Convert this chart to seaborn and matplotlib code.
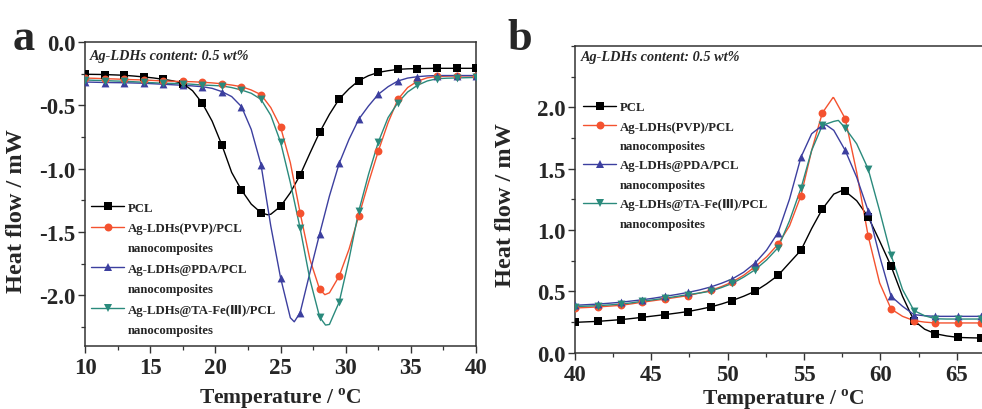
import matplotlib
matplotlib.use("Agg")
import pandas as pd
import seaborn as sns
import matplotlib.pyplot as plt
from matplotlib.lines import Line2D
from matplotlib.ticker import MultipleLocator

# panel a: every 0.75 °C (markers every 1.5 °C)
a_temp = [10, 10.75, 11.5, 12.25, 13, 13.75, 14.5, 15.25, 16, 16.75, 17.5, 18.25, 19, 19.75,
          20.5, 21.25, 22, 22.75, 23.5, 24.25, 25, 25.75, 26.5, 27.25, 28, 28.75, 29.5, 30.25,
          31, 31.75, 32.5, 33.25, 34, 34.75, 35.5, 36.25, 37, 37.75, 38.5, 39.25, 40]
a_pcl = [-0.255, -0.256, -0.257, -0.26, -0.263, -0.269, -0.276, -0.284, -0.295, -0.307, -0.328,
         -0.385, -0.484, -0.625, -0.814, -1.03, -1.169, -1.28, -1.348, -1.36, -1.298, -1.19,
         -1.05, -0.879, -0.713, -0.571, -0.45, -0.37, -0.305, -0.266, -0.24, -0.227, -0.216,
         -0.212, -0.21, -0.209, -0.208, -0.208, -0.208, -0.208, -0.208]
a_pvp = [-0.285, -0.287, -0.29, -0.292, -0.295, -0.298, -0.30, -0.304, -0.308, -0.31, -0.312,
         -0.314, -0.318, -0.323, -0.33, -0.34, -0.353, -0.379, -0.416, -0.518, -0.671, -0.953,
         -1.348, -1.716, -1.953, -1.98, -1.848, -1.637, -1.374, -1.11, -0.861, -0.637, -0.453,
         -0.36, -0.31, -0.283, -0.272, -0.27, -0.268, -0.268, -0.268]
a_pda = [-0.316, -0.318, -0.32, -0.321, -0.322, -0.324, -0.326, -0.33, -0.334, -0.338, -0.342,
         -0.347, -0.353, -0.366, -0.392, -0.431, -0.51, -0.69, -0.969, -1.453, -1.861, -2.177,
         -2.138, -1.822, -1.514, -1.216, -0.958, -0.769, -0.61, -0.505, -0.413, -0.353, -0.308,
         -0.285, -0.274, -0.268, -0.265, -0.265, -0.265, -0.265, -0.265]
a_tafe = [-0.30, -0.303, -0.305, -0.308, -0.31, -0.314, -0.318, -0.322, -0.326, -0.327, -0.329,
          -0.334, -0.34, -0.343, -0.347, -0.36, -0.379, -0.405, -0.453, -0.579, -0.79, -1.11,
          -1.47, -1.874, -2.172, -2.23, -2.053, -1.716, -1.335, -1.045, -0.79, -0.597, -0.479,
          -0.395, -0.342, -0.308, -0.29, -0.286, -0.284, -0.282, -0.28]
# bottom of each dip
a_min_temp = [24.0, 28.4, 26.05, 28.45]
a_min_val = [-1.364, -1.995, -2.209, -2.235]

# panel b
b_temp = [40.0, 40.75, 41.5, 42.25, 43.0, 43.7, 44.4, 45.15, 45.9, 46.65, 47.4, 48.15, 48.9,
          49.6, 50.3, 51.05, 51.8, 52.55, 53.3, 54.05, 54.8, 55.5, 56.2, 56.95, 57.7, 58.45,
          59.2, 59.95, 60.7, 61.45, 62.2, 62.9, 63.6, 64.35, 65.1, 65.85, 66.6]
b_pcl = [0.246, 0.25, 0.254, 0.261, 0.268, 0.277, 0.287, 0.298, 0.309, 0.321, 0.334, 0.352,
         0.372, 0.396, 0.424, 0.459, 0.50, 0.56, 0.629, 0.732, 0.834, 1.011, 1.17, 1.292, 1.315,
         1.238, 1.107, 0.91, 0.705, 0.459, 0.26, 0.19, 0.153, 0.135, 0.123, 0.12, 0.118]
b_pvp = [0.363, 0.367, 0.372, 0.378, 0.385, 0.397, 0.41, 0.423, 0.436, 0.45, 0.464, 0.485,
         0.507, 0.538, 0.575, 0.63, 0.70, 0.78, 0.883, 1.033, 1.279, 1.648, 1.954, 2.077, 1.907,
         1.47, 0.951, 0.568, 0.355, 0.295, 0.26, 0.248, 0.241, 0.241, 0.241, 0.241, 0.241]
b_pda = [0.385, 0.39, 0.395, 0.402, 0.41, 0.42, 0.43, 0.443, 0.458, 0.473, 0.49, 0.51, 0.535,
         0.565, 0.60, 0.655, 0.73, 0.835, 0.978, 1.251, 1.593, 1.784, 1.853, 1.812, 1.648, 1.429,
         1.156, 0.787, 0.459, 0.377, 0.309, 0.30, 0.295, 0.295, 0.295, 0.295, 0.295]
b_tafe = [0.375, 0.378, 0.382, 0.388, 0.395, 0.405, 0.418, 0.43, 0.443, 0.457, 0.472, 0.485,
          0.50, 0.53, 0.563, 0.615, 0.675, 0.755, 0.855, 1.074, 1.339, 1.648, 1.853, 1.885,
          1.831, 1.702, 1.497, 1.156, 0.795, 0.514, 0.342, 0.30, 0.275, 0.273, 0.273, 0.273, 0.273]
b_top_temp = [57.5, 56.9, 56.45, 57.25]
b_top_val = [1.322, 2.08, 1.856, 1.893]

names = ["PCL", "Ag-LDHs(PVP)/PCL", "Ag-LDHs@PDA/PCL", "Ag-LDHs@TA-Fe(Ⅲ)/PCL"]
colors = ["black", "#f4522f", "#3c3f9f", "#2a8a7c"]
markers = ["s", "o", "^", "v"]

sns.set_style("ticks")
plt.rcParams["font.family"] = ["Liberation Serif", "DejaVu Sans", "Noto Sans CJK SC"]
plt.rcParams["font.weight"] = "bold"
plt.rcParams["axes.labelweight"] = "bold"
plt.rcParams["axes.unicode_minus"] = False
plt.rcParams["mathtext.fontset"] = "custom"
plt.rcParams["mathtext.rm"] = "Liberation Serif"
plt.rcParams["mathtext.bf"] = "Liberation Serif:bold"

fig = plt.figure(figsize=(9.82, 4.10), dpi=100)
ax_a = fig.add_axes([0.0866, 0.1537, 0.3982, 0.7415])
# right part of panel b runs past the figure edge, as in the original
ax_b = fig.add_axes([0.5855, 0.1378, 0.4354, 0.7476])


def draw(ax, temp, series, extra_t, extra_v):
    for i, vals in enumerate(series):
        line = pd.DataFrame({"T": list(temp) + [extra_t[i]], "HF": list(vals) + [extra_v[i]]})
        line = line.sort_values("T")
        sns.lineplot(data=line, x="T", y="HF", ax=ax, color=colors[i], lw=1.0,
                     estimator=None, sort=True, legend=False)
        pts = pd.DataFrame({"T": temp[::2], "HF": vals[::2]})
        sns.scatterplot(data=pts, x="T", y="HF", ax=ax, marker=markers[i], color=colors[i],
                        s=32, linewidth=0, zorder=3, legend=False)


draw(ax_a, a_temp, [a_pcl, a_pvp, a_pda, a_tafe], a_min_temp, a_min_val)
draw(ax_b, b_temp, [b_pcl, b_pvp, b_pda, b_tafe], b_top_temp, b_top_val)

ax_a.set_xlim(10, 40)
ax_a.set_ylim(-2.4, 0.0)
ax_a.xaxis.set_major_locator(MultipleLocator(5))
ax_a.xaxis.set_minor_locator(MultipleLocator(2.5))
ax_a.set_yticks([0.0, -0.5, -1.0, -1.5, -2.0])
ax_a.yaxis.set_minor_locator(MultipleLocator(0.25))

ax_b.set_xlim(40, 68)
ax_b.set_ylim(0.0, 2.5)
ax_b.xaxis.set_major_locator(MultipleLocator(5))
ax_b.xaxis.set_minor_locator(MultipleLocator(2.5))
ax_b.set_yticks([0.0, 0.5, 1.0, 1.5, 2.0])
ax_b.yaxis.set_minor_locator(MultipleLocator(0.25))

for ax in (ax_a, ax_b):
    for s in ax.spines.values():
        s.set_color("#333333")
        s.set_linewidth(1.1)
    ax.tick_params(which="major", direction="out", length=5, width=1.0, labelsize=16.5,
                   color="#333333")
    ax.tick_params(which="minor", direction="out", length=3, width=0.9, color="#333333")
    ax.tick_params(axis="x", which="major", pad=3)
    ax.tick_params(axis="y", which="major", pad=2)
    ax.set_xlabel(r"Temperature / $^{\mathbf{o}}$C", fontsize=15.5)
    ax.set_ylabel("Heat flow / mW", fontsize=17.5)
    ax.text(0.012, 0.955, "Ag-LDHs content: 0.5 wt%", transform=ax.transAxes, fontsize=10.3,
            style="italic", weight="bold", va="center", ha="left")

ax_a.xaxis.set_label_coords(0.5, -0.13)
ax_a.yaxis.set_label_coords(-0.148, 0.447)
ax_b.xaxis.set_label_coords(0.487, -0.11)
ax_b.yaxis.set_label_coords(-0.138, 0.485)
ax_b.texts[0].set_position((0.0135, 0.967))

handles = []
labels = []
for i, n in enumerate(names):
    handles.append(Line2D([0], [0], color=colors[i], marker=markers[i], markersize=5.7, lw=1.0,
                          markeredgewidth=0))
    labels.append(n)
    if i > 0:
        handles.append(Line2D([], [], linestyle="none"))
        labels.append("nanocomposites")

for ax, anchor, spacing in ((ax_a, (0.015, 0.475), 0.66), (ax_b, (0.019, 0.82), 0.58)):
    ax.legend(handles, labels, loc="upper left", bbox_to_anchor=anchor, frameon=False,
              prop={"size": 9.2, "weight": "bold"}, handlelength=2.6, handletextpad=0.3,
              labelspacing=spacing, borderaxespad=0, borderpad=0)

fig.text(13 / 982, 1 - 50 / 410, "a", fontsize=32, weight="bold", va="baseline")
fig.text(507 / 982, 1 - 50 / 410, "b", fontsize=32, weight="bold", va="baseline")

fig.savefig("out.png", dpi=100)
